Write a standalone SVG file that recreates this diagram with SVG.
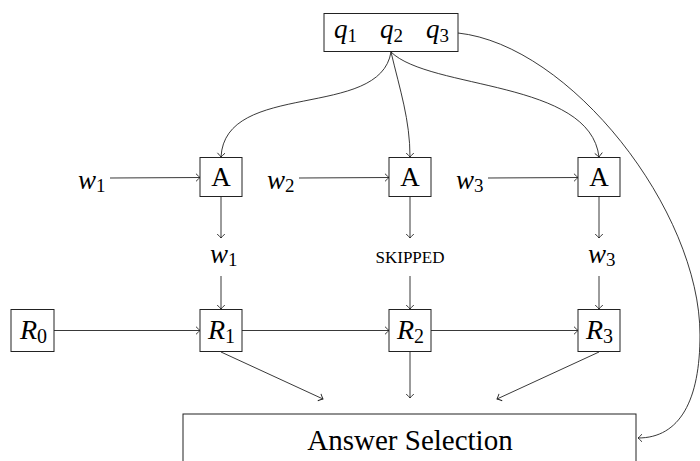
<svg xmlns="http://www.w3.org/2000/svg" width="700" height="461" viewBox="0 0 700 461">
<defs>
<marker id="arr" markerUnits="userSpaceOnUse" markerWidth="12" markerHeight="12" viewBox="-6 -6 12 12" refX="0" refY="0" orient="auto">
<path d="M-4,-3.8 Q-1,-0.8 0,0 Q-1,0.8 -4,3.8" fill="none" stroke="#222" stroke-width="0.9"/>
</marker>
<style>
.box{fill:#fff;stroke:#222;stroke-width:1}
.ln{fill:none;stroke:#222;stroke-width:0.9;marker-end:url(#arr)}
.t{font-family:"Liberation Serif","Times New Roman",serif;font-size:27px;fill:#000}
.i{font-style:italic}
.s{font-size:19px;font-style:normal}
.r{font-size:28px}
.rs{font-size:20px;font-style:normal}
.sc{font-family:"Liberation Serif","Times New Roman",serif;font-size:17px;fill:#000}
</style>
</defs>
<g id="connectors">
<path class="ln" d="M391,52 C380,120 225,80 221,157"/>
<path class="ln" d="M391,52 C400,90 410,120 410,157"/>
<path class="ln" d="M391,52 C430,90 590,80 599,157"/>
<path class="ln" d="M458,33 C570,45 700,210 700,335 C700,400 680,438 638,438"/>
<path class="ln" d="M110,178 L200,177.5"/>
<path class="ln" d="M299,178 L389,177.5"/>
<path class="ln" d="M488,178 L578,177.5"/>
<path class="ln" d="M221,197 L221,238"/>
<path class="ln" d="M410,197 L410,238"/>
<path class="ln" d="M599,197 L599,238"/>
<path class="ln" d="M221,276 L221,309"/>
<path class="ln" d="M410,276 L410,309"/>
<path class="ln" d="M599,276 L599,309"/>
<path class="ln" d="M54,330.5 L200,330.5"/>
<path class="ln" d="M242,330.5 L389,330.5"/>
<path class="ln" d="M431,330.5 L578,330.5"/>
<path class="ln" d="M221,352 L323,399"/>
<path class="ln" d="M410,352 L410,398"/>
<path class="ln" d="M599,352 L497,399"/>
</g>
<g id="q">
<rect class="box" x="324" y="13.5" width="134" height="38"/>
<text class="t i" x="334" y="38">q<tspan class="s" dy="4">1</tspan></text>
<text class="t i" x="380" y="38">q<tspan class="s" dy="4">2</tspan></text>
<text class="t i" x="426" y="38">q<tspan class="s" dy="4">3</tspan></text>
</g>
<g id="w1in"><text class="t i" x="78" y="189">w<tspan class="s" dy="3">1</tspan></text></g>
<g id="w2in"><text class="t i" x="267" y="189">w<tspan class="s" dy="3">2</tspan></text></g>
<g id="w3in"><text class="t i" x="456" y="189">w<tspan class="s" dy="3">3</tspan></text></g>
<g id="A1"><rect class="box" x="200" y="157.5" width="42" height="39"/><text class="t" x="221" y="186" text-anchor="middle">A</text></g>
<g id="A2"><rect class="box" x="389" y="157.5" width="42" height="39"/><text class="t" x="410" y="186" text-anchor="middle">A</text></g>
<g id="A3"><rect class="box" x="578" y="157.5" width="42" height="39"/><text class="t" x="599" y="186" text-anchor="middle">A</text></g>
<g id="w1out"><text class="t i" x="210" y="263">w<tspan class="s" dy="3">1</tspan></text></g>
<g id="skipped"><text class="sc" x="410" y="262.5" text-anchor="middle">SKIPPED</text></g>
<g id="w3out"><text class="t i" x="588" y="263">w<tspan class="s" dy="3">3</tspan></text></g>
<g id="R0"><rect class="box" x="11" y="309.5" width="43" height="42"/><text class="t i r" x="20" y="339">R<tspan class="rs" dy="4">0</tspan></text></g>
<g id="R1"><rect class="box" x="200" y="309.5" width="42" height="42"/><text class="t i r" x="208" y="339">R<tspan class="rs" dy="4">1</tspan></text></g>
<g id="R2"><rect class="box" x="389" y="309.5" width="42" height="42"/><text class="t i r" x="397" y="339">R<tspan class="rs" dy="4">2</tspan></text></g>
<g id="R3"><rect class="box" x="578" y="309.5" width="42" height="42"/><text class="t i r" x="586" y="339">R<tspan class="rs" dy="4">3</tspan></text></g>
<g id="answer"><rect class="box" x="183" y="414" width="453" height="60"/><text class="t" x="410" y="450" text-anchor="middle" style="font-size:29px">Answer Selection</text></g>
</svg>
